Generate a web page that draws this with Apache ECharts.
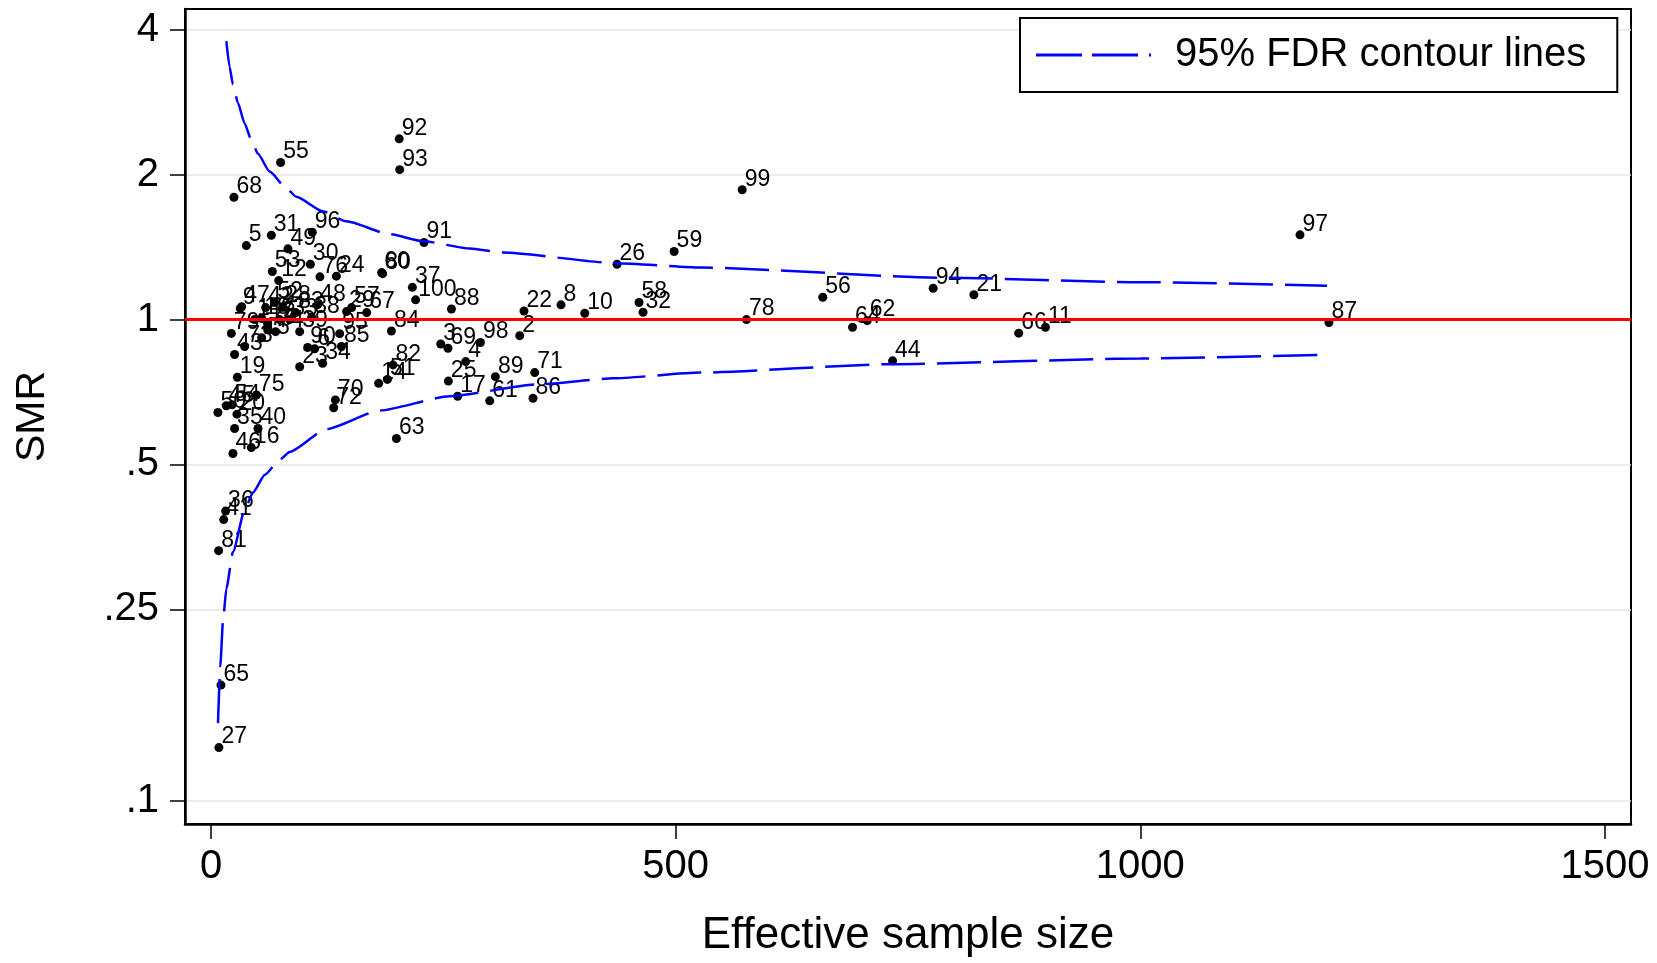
<!DOCTYPE html>
<html>
<head>
<meta charset="utf-8">
<script src="https://cdn.jsdelivr.net/npm/echarts@6/dist/echarts.min.js"></script>
<style>
  html, body { margin: 0; padding: 0; background: #fff; }
  #funnel { width: 1657px; height: 963px; }
</style>
</head>
<body>
<div id="funnel"></div>
<script>
// unit number, effective sample size, SMR
var ids = [];
for (var n = 1; n <= 100; n++) ids.push(n);

var ess = [46.9, 332.2, 247.2, 274.1, 38.0, 111.5, 73.8, 376.6, 31.5, 402.2,
    897.9, 72.8, 60.9, 180.4, 54.5, 43.4, 265.4, 54.5, 28.3, 27.9,
    820.9, 336.8, 95.4, 134.9, 255.4, 436.9, 8.5, 77.1, 145.9, 106.9,
    64.9, 464.9, 84.6, 120.1, 25.4, 15.7, 216.7, 108.3, 95.4, 50.5,
    13.6, 58.8, 25.4, 733.4, 16.5, 23.6, 33.0, 114.7, 82.8, 7.4,
    189.8, 68.5, 66.0, 22.5, 74.9, 658.3, 151.3, 460.6, 498.3, 183.6,
    299.9, 706.1, 199.5, 690.3, 10.7, 869.1, 167.5, 24.7, 255.0, 133.8,
    348.3, 132.0, 36.2, 69.5, 48.8, 117.2, 60.9, 576.2, 21.9, 184.7,
    8.2, 195.8, 91.1, 194.1, 140.3, 346.5, 1203, 258.7, 306.0, 104.0,
    229.2, 202.5, 203.0, 777.1, 138.4, 109.0, 1171.8, 289.9, 571.6, 220.2];

var smr = [1.0, 0.926, 0.890, 0.818, 1.425, 0.870, 1.0, 1.073, 1.055, 1.031,
    0.964, 1.205, 0.981, 0.737, 0.917, 0.542, 0.693, 1.005, 0.759, 0.636,
    1.126, 1.042, 0.798, 1.231, 0.745, 1.303, 0.129, 1.064, 1.039, 1.303,
    1.497, 1.036, 1.0, 0.811, 0.594, 0.40, 1.167, 1.01, 0.944, 0.594,
    0.384, 1.059, 0.846, 0.821, 0.662, 0.527, 1.064, 1.074, 1.403, 0.641,
    0.751, 1.085, 1.259, 0.665, 2.121, 1.113, 1.059, 1.085, 1.385, 1.252,
    0.678, 0.995, 0.566, 0.964, 0.174, 0.937, 1.034, 1.796, 0.872, 0.681,
    0.776, 0.656, 0.879, 0.944, 0.697, 1.227, 0.953, 1.0, 0.936, 1.246,
    0.331, 0.805, 1.034, 0.947, 0.879, 0.686, 0.986, 1.052, 0.761, 0.875,
    1.446, 2.375, 2.049, 1.162, 0.935, 1.519, 1.50, 0.896, 1.861, 1.099];

// 95% FDR contour lines
var upperX = [16.5, 20, 23.6, 29, 36, 43.4, 50.5, 63.1, 81.1, 91.8, 120, 145.6, 192.2, 228.1, 278.4, 314, 436.3, 526.5, 786.9, 1000, 1201];
var upperY = [3.79, 3.35, 3.08, 2.82, 2.56, 2.36, 2.21, 2.03, 1.875, 1.80, 1.68, 1.60, 1.505, 1.455, 1.405, 1.378, 1.31, 1.283, 1.222, 1.196, 1.176];
var lowerX = [7.5, 10, 12.8, 16.5, 23.6, 36.2, 45.1, 58, 73.8, 84.6, 124.1, 181.5, 256.8, 350, 432.6, 526.5, 733.4, 1000, 1201];
var lowerY = [0.145, 0.191, 0.235, 0.276, 0.329, 0.402, 0.437, 0.476, 0.511, 0.531, 0.592, 0.647, 0.693, 0.733, 0.755, 0.776, 0.808, 0.83, 0.845];

var xTicks = [0, 500, 1000, 1500];
var yTicks = [0.1, 0.25, 0.5, 1, 2, 4];
var yTickLabels = ['.1', '.25', '.5', '1', '2', '4'];

var FONT = 'Liberation Sans, Arial, Helvetica, sans-serif';

function pairs(xs, ys) {
    var out = [];
    for (var i = 0; i < xs.length; i++) out.push([xs[i], ys[i]]);
    return out;
}

var points = [];
for (var i = 0; i < ids.length; i++) {
    points.push([ess[i], smr[i], ids[i]]);
}

var chart = echarts.init(document.getElementById('funnel'));

var dash = {color: '#0000ff', width: 2.5, type: [44, 12]};

var option = {
    animation: false,
    backgroundColor: '#fff',
    textStyle: {fontFamily: FONT},
    grid: {
        left: 185, right: 26, top: 9, bottom: 139,
        show: true, borderColor: '#000', borderWidth: 2
    },
    legend: {
        data: ['95% FDR contour lines'],
        left: 1020, top: 18,
        padding: [17, 31, 17, 16],
        borderColor: '#000', borderWidth: 2,
        backgroundColor: '#fff',
        // two dashes and a dot, like the Stata key
        icon: 'path://M0,0h46v3h-46z M56,0h46v3h-46z M113,0h2v3h-2z',
        itemWidth: 115, itemHeight: 3,
        textStyle: {fontFamily: FONT, fontSize: 40, color: '#000', padding: [0, 0, 0, 19]}
    },
    xAxis: {
        type: 'value',
        min: -28, max: 1528,
        name: 'Effective sample size',
        nameLocation: 'middle',
        nameGap: 90,
        nameTextStyle: {fontFamily: FONT, fontSize: 44, color: '#000'},
        axisLine: {show: true, onZero: false, lineStyle: {color: '#000', width: 2.5}},
        axisTick: {show: true, length: 15, customValues: xTicks, lineStyle: {color: '#000', width: 1.5}},
        axisLabel: {
            customValues: xTicks, margin: 23, fontFamily: FONT, fontSize: 40, color: '#000',
            formatter: function (v) { return String(v); }
        },
        splitLine: {show: false}
    },
    yAxis: {
        type: 'log',
        logBase: 10,
        min: 0.0895, max: 4.42,
        name: 'SMR',
        nameLocation: 'middle',
        nameRotate: 90,
        nameGap: 132,
        nameTextStyle: {fontFamily: FONT, fontSize: 41, color: '#000'},
        axisLine: {show: true, onZero: false, lineStyle: {color: '#000', width: 2.5}},
        axisTick: {show: true, length: 15, customValues: yTicks, lineStyle: {color: '#000', width: 1.5}},
        axisLabel: {
            customValues: yTicks, margin: 26, fontFamily: FONT, fontSize: 40, color: '#000',
            formatter: function (v) {
                for (var k = 0; k < yTicks.length; k++) {
                    if (Math.abs(yTicks[k] - v) < 1e-6) return yTickLabels[k];
                }
                return '';
            }
        },
        splitLine: {show: true, lineStyle: {color: '#e6e6e6', width: 1.5}}
    },
    series: [
        {
            name: '95% FDR contour lines',
            type: 'line',
            symbol: 'none',
            smooth: 0.2,
            smoothMonotone: 'x',
            data: pairs(upperX, upperY),
            lineStyle: dash,
            itemStyle: {color: '#0000ff'},
            markLine: {
                silent: true,
                symbol: 'none',
                label: {show: false},
                lineStyle: {color: '#ff0000', width: 3, type: 'solid'},
                data: [{yAxis: 1}]
            }
        },
        {
            name: '95% FDR contour lines',
            type: 'line',
            symbol: 'none',
            smooth: 0.2,
            smoothMonotone: 'x',
            data: pairs(lowerX, lowerY),
            lineStyle: dash,
            itemStyle: {color: '#0000ff'}
        },
        {
            name: 'units',
            type: 'scatter',
            symbolSize: 9,
            itemStyle: {color: '#000', opacity: 1},
            data: points,
            label: {
                show: true,
                position: [7, -6],
                align: 'left',
                verticalAlign: 'middle',
                formatter: function (p) { return p.value[2]; },
                fontFamily: FONT,
                fontSize: 23,
                color: '#000'
            }
        }
    ]
};

chart.setOption(option);
</script>
</body>
</html>
